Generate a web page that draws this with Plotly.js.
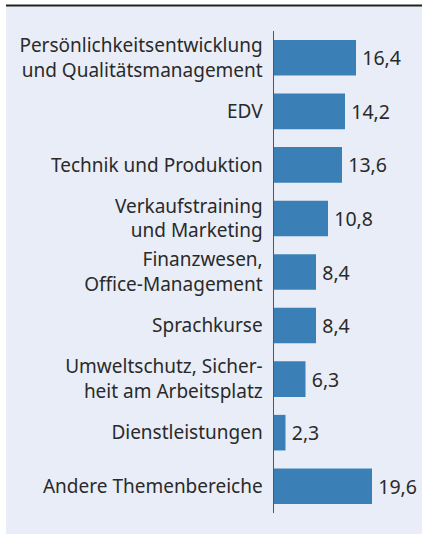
<!DOCTYPE html>
<html>
<head>
<meta charset="utf-8">
<script src="https://cdn.plot.ly/plotly-3.0.1.min.js"></script>
<style>
html,body{margin:0;padding:0;background:#fff;}
#chart{width:422px;height:534px;}
</style>
</head>
<body>
<div id="chart"></div>
<script>
const categories = [
  "Persönlichkeitsentwicklung<br>und Qualitätsmanagement",
  "EDV",
  "Technik und Produktion",
  "Verkaufstraining<br>und Marketing",
  "Finanzwesen,<br>Office-Management",
  "Sprachkurse",
  "Umweltschutz, Sicher-<br>heit am Arbeitsplatz",
  "Dienstleistungen",
  "Andere Themenbereiche"
];
const values = [16.4, 14.2, 13.6, 10.8, 8.4, 8.4, 6.3, 2.3, 19.6];
const valueLabels = values.map(v => '\u2009' + v.toFixed(1).replace('.', ','));

const L = 274, R = 0, T = 31, B = 21, W = 422, H = 534;
const pw = W - L - R, ph = H - T - B;
const px2xp = x => (x - L) / pw;
const py2yp = y => (H - B - y) / ph;

const trace = {
  type: 'bar',
  orientation: 'h',
  y: categories,
  x: values,
  text: valueLabels,
  textposition: 'outside',
  cliponaxis: false,
  textfont: {family: 'Noto Sans, sans-serif', size: 19.5, color: '#2a2a2a'},
  marker: {color: '#3a80b6', line: {width: 0}},
  width: 0.665,
  hoverinfo: 'skip'
};

const layout = {
  width: W, height: H,
  margin: {l: L, r: R, t: T, b: B, pad: 0},
  paper_bgcolor: '#ffffff',
  plot_bgcolor: 'rgba(0,0,0,0)',
  showlegend: false,
  font: {family: 'Noto Sans, sans-serif', size: 19, color: '#2a2a2a'},
  xaxis: {range: [0, pw / 5], showgrid: false, zeroline: false, showline: false, showticklabels: false, fixedrange: true},
  yaxis: {
    type: 'category', autorange: 'reversed',
    showgrid: false, zeroline: false,
    showline: true, linecolor: '#555', linewidth: 1.5,
    ticks: '', ticklabelstandoff: 6,
    tickfont: {family: 'Noto Sans, sans-serif', size: 19, color: '#2a2a2a'},
    fixedrange: true
  },
  shapes: [
    {type: 'rect', xref: 'paper', yref: 'paper', layer: 'below',
     x0: px2xp(6), x1: px2xp(422), y0: py2yp(534), y1: py2yp(6),
     fillcolor: '#e9edf7', line: {width: 0}},
    {type: 'line', xref: 'paper', yref: 'paper', layer: 'above',
     x0: px2xp(6), x1: px2xp(422), y0: py2yp(5.5), y1: py2yp(5.5),
     line: {color: '#222', width: 2}}
  ]
};

Plotly.newPlot('chart', [trace], layout, {displayModeBar: false, staticPlot: true});
</script>
</body>
</html>
